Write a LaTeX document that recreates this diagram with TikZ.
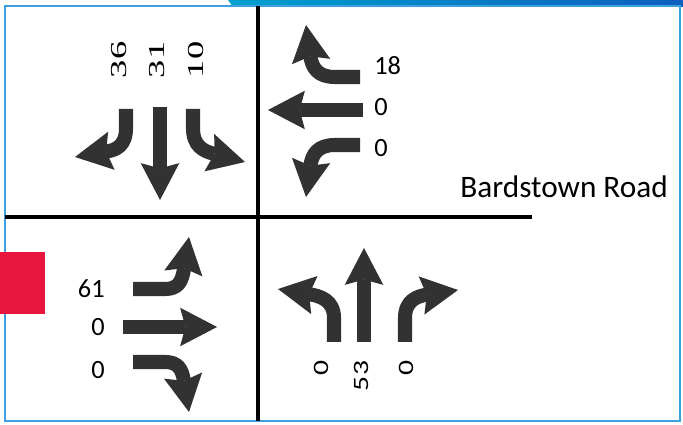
\documentclass[tikz,border=0pt]{standalone}
\usepackage{fontspec}
\setmainfont{Carlito}
\newfontfamily\numserif{Liberation Serif}
\usetikzlibrary{arrows.meta}
\definecolor{arrowgray}{RGB}{50,50,50}
\definecolor{framecol}{RGB}{60,160,225}
\definecolor{bandleft}{RGB}{0,160,205}
\definecolor{bandright}{RGB}{15,95,190}
\definecolor{signred}{RGB}{232,22,62}

\tikzset{
  lanearrow/.style={draw=arrowgray, line width=8pt, line cap=butt,
    -{Stealth[length=21pt, width=22pt, inset=3pt, line width=0pt]}},
  countlabel/.style={inner sep=0pt, font=\fontsize{15}{17}\selectfont},
  rotcount/.style={inner sep=0pt, rotate=90},
  roadline/.style={black, line width=1.8pt}
}

\begin{document}
\begin{tikzpicture}[x=0.02cm, y=-0.02cm]
  \useasboundingbox (0,0) rectangle (683,425);
  % Frame and top band
  \shade[left color=bandleft, right color=bandright]
    (228,0) -- (683,0) -- (683,7) -- (233,7) -- cycle;
  \draw[framecol, line width=0.9pt] (5,6) rectangle (680,421);
  \fill[signred] (0,252) rectangle (45,314);
  % Road cross
  \draw[roadline] (258,6) -- (258,421);
  \draw[roadline] (5,217) -- (532,217);
  \node[inner sep=0pt, anchor=base west, font=\fontsize{17.8}{20}\selectfont]
    (road) at (460,198) {Bardstown Road};

  % Southbound lanes
  \draw[lanearrow] (160,107) -- (160,200);
  \draw[lanearrow] (126,109) -- (126,128) .. controls (126,146) and (116,150) .. (75,157);
  \draw[lanearrow] (193,109) -- (193,128) .. controls (193,146) and (203,151) .. (245,162);
  \foreach \x/\v/\n in {119/36/L, 157/31/T, 196/10/R}{
    \node[rotcount, font=\numserif\fontsize{13}{14}\selectfont]
      (sb\n) at (\x,60) {\scalebox{1.6}[1]{\v}};
  }

  % Westbound lanes
  \draw[lanearrow] (363,110) -- (268,110);
  \draw[lanearrow] (360,77) -- (335,77) .. controls (318,77) and (312,68) .. (306,25);
  \draw[lanearrow] (360,145) -- (335,145) .. controls (318,145) and (312,154) .. (306,197);
  \foreach \y/\v/\n in {66/18/R, 107/0/T, 148/0/L}{
    \node[countlabel, anchor=west] (wb\n) at (374,\y) {\v};
  }

  % Eastbound lanes
  \draw[lanearrow] (123,327) -- (217,327);
  \draw[lanearrow] (133,289) -- (165,289) .. controls (178,289) and (182,282) .. (189,237);
  \draw[lanearrow] (133,362) -- (165,362) .. controls (178,362) and (182,369) .. (189,412);
  \foreach \y/\v/\n in {289/61/L, 327/0/T, 370/0/R}{
    \node[countlabel, anchor=east] (eb\n) at (105,\y) {\v};
  }

  % Northbound lanes
  \draw[lanearrow] (364,342) -- (364,248);
  \draw[lanearrow] (334,342) -- (334,318) .. controls (334,300) and (320,296) .. (278,289);
  \draw[lanearrow] (405,342) -- (405,318) .. controls (405,300) and (418,296) .. (458,290);
  \foreach \x/\y/\v/\n in {321/368/0/L, 361/376/53/T, 406/368/0/R}{
    \node[rotcount, font=\fontsize{12.5}{13}\selectfont]
      (nb\n) at (\x,\y) {\scalebox{1.35}[1]{\v}};
  }
\end{tikzpicture}
\end{document}
